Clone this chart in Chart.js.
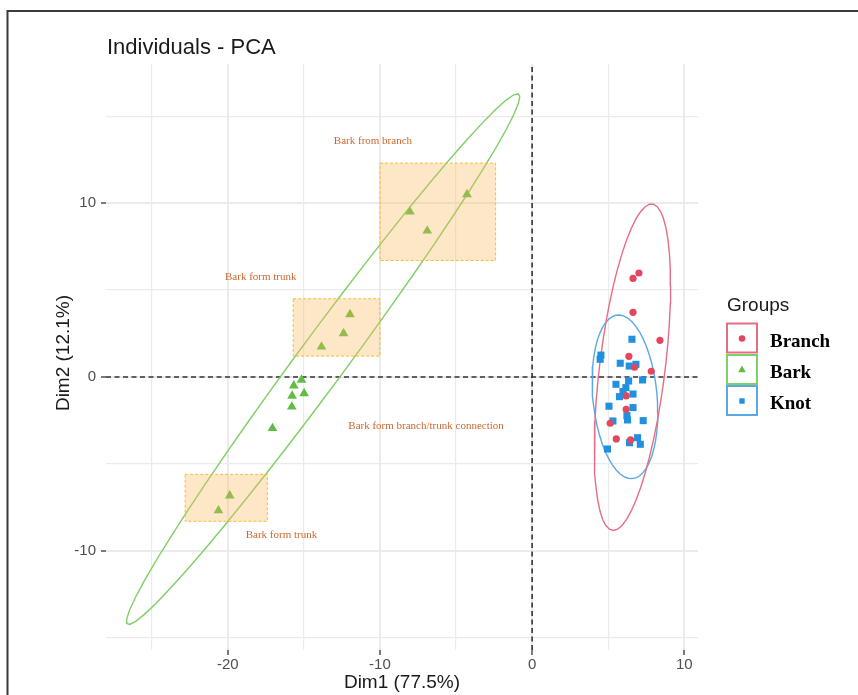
<!DOCTYPE html>
<html>
<head>
<meta charset="utf-8">
<title>Individuals - PCA</title>
<script src="https://cdn.jsdelivr.net/npm/chart.js@4.4.0/dist/chart.umd.min.js"></script>
<style>
  html, body { margin: 0; padding: 0; background: #fff; }
  #pca { display: block; }
</style>
</head>
<body>
<canvas id="pca" width="858" height="695"></canvas>
<script>
// PCA individual scores, one pair of arrays per group
const branchDim1 = [7.02, 6.63, 6.63, 8.40, 6.36, 6.73, 7.83, 6.18, 6.18, 5.13, 5.53, 6.47];
const branchDim2 = [5.98, 5.67, 3.72, 2.11, 1.19, 0.56, 0.33, -1.09, -1.86, -2.66, -3.56, -3.62];

const barkDim1 = [-4.28, -8.03, -6.89, -11.97, -12.39, -13.84, -15.15, -15.66, -14.98, -15.77, -15.79, -17.06, -19.87, -20.61];
const barkDim2 = [10.5, 9.5, 8.41, 3.6, 2.51, 1.74, -0.17, -0.5, -0.94, -1.09, -1.71, -2.95, -6.82, -7.68];

const knotDim1 = [6.56, 4.52, 4.47, 5.79, 6.38, 6.82, 7.26, 5.51, 6.34, 6.16, 5.97, 5.74, 6.63, 5.05, 6.63, 6.23, 6.27, 5.31, 7.30, 6.93, 6.40, 7.11, 4.95];
const knotDim2 = [2.17, 1.26, 1.02, 0.79, 0.63, 0.73, -0.17, -0.42, -0.23, -0.61, -0.84, -1.13, -0.98, -1.68, -1.76, -2.22, -2.47, -2.53, -2.51, -3.49, -3.78, -3.87, -4.14];

const groupNames = ['Branch', 'Bark', 'Knot'];
const groupShapes = ['circle', 'triangle', 'rect'];

// shaded regions on the Bark group: Dim1 from/to, Dim2 from/to
const boxDim1From = [-10.0, -15.7, -22.8];
const boxDim1To = [-2.4, -10.0, -17.4];
const boxDim2From = [6.7, 1.2, -8.3];
const boxDim2To = [12.3, 4.5, -5.6];

const noteText = ['Bark from branch', 'Bark form trunk', 'Bark form branch/trunk connection', 'Bark form trunk'];
const noteDim1 = [-10.46, -17.83, -6.97, -16.47];
const noteDim2 = [13.56, 5.75, -2.82, -9.1];

const pointColors = ['#E2475F', '#5FBE42', '#2190DF'];
const lineColors = ['#E56E84', '#7DCF66', '#5AA9E6'];

const SANS = '"Liberation Sans", Arial, sans-serif';
const SERIF = '"Liberation Serif", "Times New Roman", serif';

// 95% normal concentration ellipse, same construction as ggplot2's stat_ellipse
function ellipse(xs, ys, level, segments) {
  const n = xs.length;
  const mx = xs.reduce((a, b) => a + b, 0) / n;
  const my = ys.reduce((a, b) => a + b, 0) / n;
  let sxx = 0, syy = 0, sxy = 0;
  for (let i = 0; i < n; i++) {
    const dx = xs[i] - mx, dy = ys[i] - my;
    sxx += dx * dx; syy += dy * dy; sxy += dx * dy;
  }
  sxx /= n - 1; syy /= n - 1; sxy /= n - 1;
  // upper cholesky factor of the covariance matrix
  const r11 = Math.sqrt(sxx);
  const r12 = sxy / r11;
  const r22 = Math.sqrt(syy - r12 * r12);
  // F(2, d) quantile has a closed form
  const d = n - 1;
  const fq = (d / 2) * (Math.pow(1 - level, -2 / d) - 1);
  const radius = Math.sqrt(2 * fq);
  const pts = [];
  for (let k = 0; k <= segments; k++) {
    const a = 2 * Math.PI * k / segments;
    const c = Math.cos(a), s = Math.sin(a);
    pts.push({ x: mx + radius * c * r11, y: my + radius * (c * r12 + s * r22) });
  }
  return pts;
}

const groupX = [branchDim1, barkDim1, knotDim1];
const groupY = [branchDim2, barkDim2, knotDim2];
const pointRadius = [3.6, 5.6, 5.0];

const datasets = [];
groupNames.forEach((name, g) => {
  datasets.push({
    label: name + ' ellipse',
    data: ellipse(groupX[g], groupY[g], 0.95, 51),
    showLine: true,
    fill: false,
    borderColor: lineColors[g],
    borderWidth: 1.4,
    pointRadius: 0,
    tension: 0,
    order: 2
  });
});
groupNames.forEach((name, g) => {
  datasets.push({
    label: name,
    data: groupX[g].map((x, i) => ({ x: x, y: groupY[g][i] })),
    pointStyle: groupShapes[g],
    pointRadius: pointRadius[g],
    pointBackgroundColor: pointColors[g],
    pointBorderWidth: 0,
    showLine: false,
    order: 1
  });
});

const isMajor = v => Math.round(v) % 10 === 0;

const decor = {
  id: 'decor',
  beforeDraw(chart) {
    const ctx = chart.ctx;
    ctx.save();
    ctx.fillStyle = '#fff';
    ctx.fillRect(0, 0, chart.width, chart.height);
    // outer frame, top and left edges
    ctx.strokeStyle = '#3a3a3a';
    ctx.lineWidth = 2;
    ctx.beginPath();
    ctx.moveTo(858, 11);
    ctx.lineTo(7.5, 11);
    ctx.lineTo(7.5, 695);
    ctx.stroke();
    ctx.restore();
  },
  beforeDatasetsDraw(chart) {
    const { ctx, chartArea: a, scales } = chart;
    const x0 = scales.x.getPixelForValue(0);
    const y0 = scales.y.getPixelForValue(0);
    ctx.save();
    ctx.strokeStyle = '#333';
    ctx.lineWidth = 1.6;
    ctx.setLineDash([5, 3.5]);
    ctx.beginPath();
    ctx.moveTo(a.left, y0); ctx.lineTo(a.right, y0);
    ctx.moveTo(x0, a.top + 3); ctx.lineTo(x0, a.bottom);
    ctx.stroke();
    ctx.restore();
  },
  afterDatasetsDraw(chart) {
    const { ctx, scales } = chart;
    const sx = scales.x, sy = scales.y;
    ctx.save();
    boxDim1From.forEach((x1, i) => {
      const l = sx.getPixelForValue(x1), r = sx.getPixelForValue(boxDim1To[i]);
      const b = sy.getPixelForValue(boxDim2From[i]), t = sy.getPixelForValue(boxDim2To[i]);
      ctx.fillStyle = 'rgba(250, 185, 95, 0.35)';
      ctx.fillRect(l, t, r - l, b - t);
      ctx.strokeStyle = '#F4BE3A';
      ctx.lineWidth = 1;
      ctx.setLineDash([3, 2]);
      ctx.strokeRect(l, t, r - l, b - t);
    });
    ctx.setLineDash([]);
    ctx.fillStyle = '#CB672F';
    ctx.font = '11px ' + SERIF;
    ctx.textAlign = 'center';
    ctx.textBaseline = 'middle';
    noteText.forEach((txt, i) => {
      ctx.fillText(txt, sx.getPixelForValue(noteDim1[i]), sy.getPixelForValue(noteDim2[i]));
    });
    ctx.restore();
  },
  afterDraw(chart) {
    const { ctx, chartArea: a } = chart;
    ctx.save();
    ctx.fillStyle = '#1a1a1a';
    ctx.textBaseline = 'alphabetic';

    ctx.font = '22px ' + SANS;
    ctx.textAlign = 'left';
    ctx.fillText('Individuals - PCA', 107, 54);

    ctx.font = '19px ' + SANS;
    ctx.textAlign = 'center';
    ctx.fillText('Dim1 (77.5%)', (a.left + a.right) / 2, 688);
    ctx.save();
    ctx.translate(69, 353);
    ctx.rotate(-Math.PI / 2);
    ctx.fillText('Dim2 (12.1%)', 0, 0);
    ctx.restore();

    // legend
    ctx.textAlign = 'left';
    ctx.fillText('Groups', 727, 311);
    const keyTop = [323.5, 355, 386];
    const keyRadius = [3.3, 4.4, 3.8];
    groupNames.forEach((name, g) => {
      const top = keyTop[g];
      ctx.fillStyle = '#fff';
      ctx.fillRect(727, top, 30, 29);
      ctx.strokeStyle = lineColors[g];
      ctx.lineWidth = 2;
      ctx.strokeRect(727, top, 30, 29);
      ctx.fillStyle = pointColors[g];
      Chart.helpers.drawPoint(ctx, {
        pointStyle: groupShapes[g],
        radius: keyRadius[g],
        borderWidth: 0,
        rotation: 0
      }, 742, top + 15);
      ctx.fillStyle = '#000';
      ctx.font = 'bold 19px ' + SERIF;
      ctx.fillText(name, 770, top + 23);
    });
    ctx.restore();
  }
};

new Chart(document.getElementById('pca'), {
  type: 'scatter',
  data: { datasets: datasets },
  plugins: [decor],
  options: {
    responsive: false,
    animation: false,
    events: [],
    layout: { padding: { top: 64, right: 160, bottom: 0, left: 0 } },
    plugins: {
      legend: { display: false },
      title: { display: false },
      tooltip: { enabled: false }
    },
    scales: {
      x: {
        type: 'linear',
        min: -28,
        max: 10.9,
        afterFit: s => { s.height = 45; },
        border: { display: false },
        grid: {
          color: '#EBEBEB',
          lineWidth: c => isMajor(c.tick.value) ? 2 : 1.2,
          tickLength: 5,
          tickWidth: 1.3,
          tickColor: c => isMajor(c.tick.value) ? '#333' : 'rgba(0,0,0,0)'
        },
        ticks: {
          stepSize: 5,
          includeBounds: false,
          autoSkip: false,
          maxRotation: 0,
          padding: 1,
          color: '#4D4D4D',
          font: { family: SANS, size: 15 },
          callback: v => isMajor(v) ? String(v) : ''
        }
      },
      y: {
        type: 'linear',
        min: -15.7,
        max: 18.0,
        afterFit: s => { s.width = 106; },
        border: { display: false },
        grid: {
          color: '#EBEBEB',
          lineWidth: c => isMajor(c.tick.value) ? 2 : 1.2,
          tickLength: 5,
          tickWidth: 1.3,
          tickColor: c => isMajor(c.tick.value) ? '#333' : 'rgba(0,0,0,0)'
        },
        ticks: {
          stepSize: 5,
          includeBounds: false,
          autoSkip: false,
          padding: 5,
          color: '#4D4D4D',
          font: { family: SANS, size: 15 },
          callback: v => isMajor(v) ? String(v) : ''
        }
      }
    }
  }
});
</script>
</body>
</html>
